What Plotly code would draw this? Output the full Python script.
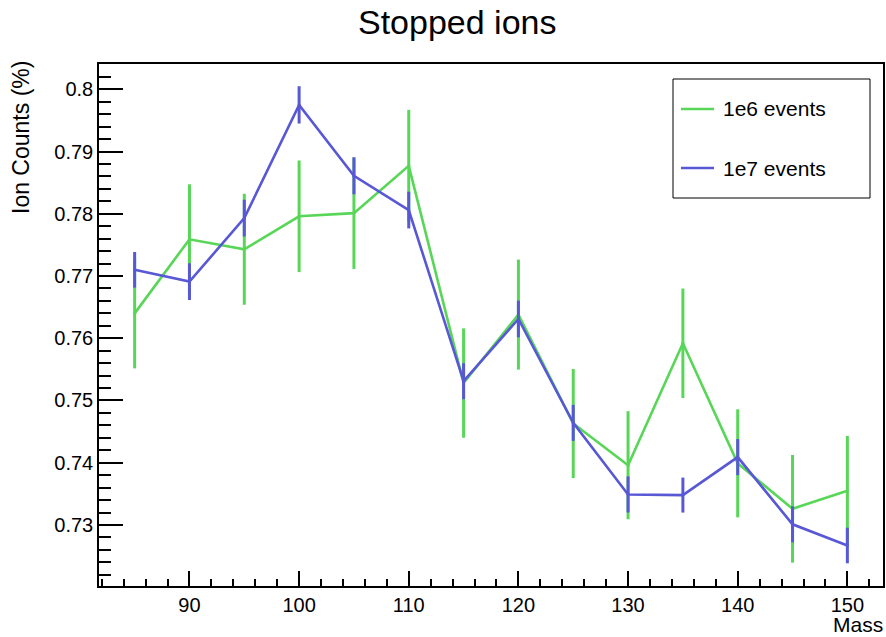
import plotly.graph_objects as go

mass = [85, 90, 95, 100, 105, 110, 115, 120, 125, 130, 135, 140, 145, 150]
counts_1e6 = [0.7640, 0.7759, 0.7743, 0.7796, 0.7801, 0.7877, 0.7528, 0.7638,
              0.7463, 0.7396, 0.7592, 0.7399, 0.7326, 0.7355]
err_1e6 = [0.00884, 0.00884, 0.00892, 0.00897, 0.00896, 0.00900, 0.00879, 0.00884,
           0.00876, 0.00868, 0.00879, 0.00868, 0.00865, 0.00879]
counts_1e7 = [0.7710, 0.7691, 0.7793, 0.7975, 0.7861, 0.7806, 0.7531, 0.7631,
              0.7464, 0.7349, 0.7348, 0.7409, 0.7301, 0.7267]
err_1e7 = [0.00286, 0.00295, 0.00295, 0.00300, 0.00297, 0.00295, 0.00290, 0.00295,
           0.00289, 0.00290, 0.00281, 0.00290, 0.00290, 0.00286]

x_ticks = [90, 100, 110, 120, 130, 140, 150]
x_tick_labels = ["90", "100", "110", "120", "130", "140", "150"]
y_ticks = [0.73, 0.74, 0.75, 0.76, 0.77, 0.78, 0.79, 0.80]
y_tick_labels = ["0.73", "0.74", "0.75", "0.76", "0.77", "0.78", "0.79", "0.8"]

series_names = ["1e6 events", "1e7 events"]
GREEN = "rgb(88,214,88)"
BLUE = "rgb(88,88,214)"
FONT = "Liberation Sans, Arial, Helvetica, sans-serif"

W, H = 886, 637
L, T = 99, 64
R = W - 883
B = H - 586
pw, ph = W - L - R, H - T - B


def px_x(p):
    return (p - L) / pw


def px_y(p):
    return (H - B - p) / ph


fig = go.Figure()
for name, ys, es, col in [(series_names[0], counts_1e6, err_1e6, GREEN),
                          (series_names[1], counts_1e7, err_1e7, BLUE)]:
    fig.add_trace(go.Scatter(
        x=mass, y=ys, name=name, mode="lines+markers",
        line=dict(color=col, width=2.6),
        marker=dict(color=col, size=3),
        error_y=dict(type="data", array=es, visible=True, color=col,
                     thickness=3, width=0),
        showlegend=False,
    ))

# legend drawn manually (box, line samples, labels)
shapes = [dict(type="rect", xref="paper", yref="paper",
               x0=px_x(673), x1=px_x(870), y0=px_y(198), y1=px_y(79),
               line=dict(color="black", width=1), fillcolor="white", layer="above")]
annotations = []
for i, (name, col) in enumerate([(series_names[0], GREEN), (series_names[1], BLUE)]):
    yy = 109 + 59 * i
    shapes.append(dict(type="line", xref="paper", yref="paper",
                       x0=px_x(681), x1=px_x(714), y0=px_y(yy), y1=px_y(yy),
                       line=dict(color=col, width=2.6), layer="above"))
    annotations.append(dict(text=name, xref="paper", yref="paper",
                            x=px_x(721), y=px_y(yy), xanchor="left", yanchor="middle",
                            showarrow=False, font=dict(size=21, color="black", family=FONT)))

annotations.append(dict(text="Stopped ions", xref="paper", yref="paper",
                        x=px_x(457), y=px_y(22), xanchor="center", yanchor="middle",
                        showarrow=False, font=dict(size=34, color="black", family=FONT)))
annotations.append(dict(text="Mass", xref="paper", yref="paper",
                        x=px_x(885), y=px_y(624), xanchor="right", yanchor="middle",
                        showarrow=False, font=dict(size=21, color="black", family=FONT)))
annotations.append(dict(text="Ion Counts (%)", xref="paper", yref="paper",
                        x=px_x(21), y=px_y(138), xanchor="center", yanchor="middle",
                        textangle=-90, showarrow=False,
                        font=dict(size=23, color="black", family=FONT)))

fig.update_layout(
    width=W, height=H, autosize=False,
    margin=dict(l=L, r=R, t=T, b=B, pad=0, autoexpand=False),
    paper_bgcolor="white", plot_bgcolor="white",
    font=dict(family=FONT, size=20, color="black"),
    shapes=shapes, annotations=annotations,
    showlegend=False,
)
fig.update_xaxes(
    range=[81.75, 153.25], showgrid=False, zeroline=False, automargin=False,
    showline=True, linecolor="black", linewidth=1.5, mirror=True,
    ticks="inside", ticklen=15, tickwidth=1.5, tickcolor="black",
    tickvals=x_ticks, ticktext=x_tick_labels,
    tickfont=dict(size=20, family=FONT, color="black"),
    minor=dict(ticks="inside", ticklen=7, tickwidth=1.5, tickcolor="black",
               dtick=2, tick0=80, showgrid=False),
)
fig.update_yaxes(
    range=[0.72019, 0.80407], showgrid=False, zeroline=False, automargin=False,
    showline=True, linecolor="black", linewidth=1.5, mirror=True,
    ticks="inside", ticklen=24, tickwidth=1.5, tickcolor="black",
    tickvals=y_ticks, ticktext=y_tick_labels,
    tickfont=dict(size=20, family=FONT, color="black"),
    minor=dict(ticks="inside", ticklen=12, tickwidth=1.5, tickcolor="black",
               dtick=0.002, tick0=0.72, showgrid=False),
)

fig.write_html(
    "out.html",
    config={"displayModeBar": False},
    post_script="document.body.style.margin='0';document.body.style.overflow='hidden';",
)
